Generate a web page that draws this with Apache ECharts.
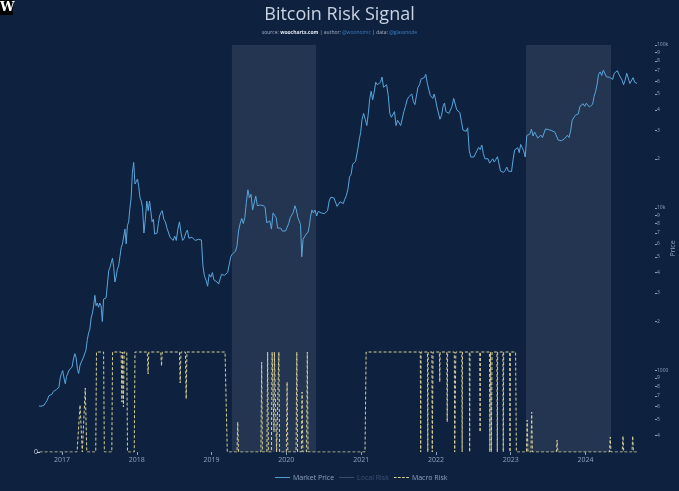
<!DOCTYPE html>
<html>
<head>
<meta charset="utf-8">
<script src="https://cdn.jsdelivr.net/npm/echarts@6/dist/echarts.min.js"></script>
<style>
html,body{margin:0;padding:0;background:#0e2240;}
#chart{width:679px;height:491px;}
</style>
</head>
<body>
<div id="chart"></div>
<script>
// ---- Data ----
// Market price: per month lists of roughly weekly closes (USD)
const priceStart = [2016, 8]; // year, month index (0-based) -> Sep 2016
const price2016 = [
  [608, 606, 604, 605],
  [613, 636, 657, 700],
  [705, 715, 745, 735],
  [765, 780, 790, 900, 960]
];
const price2017 = [
  [1000, 900, 830, 920, 920],
  [1010, 990, 1050, 1180],
  [1270, 1200, 1030, 960, 1070],
  [1130, 1180, 1210, 1330],
  [1550, 1700, 1800, 2100, 2250],
  [2500, 2900, 2500, 2600, 2450],
  [2600, 2500, 2000, 2750, 2700],
  [2800, 3400, 4100, 4300, 4600],
  [4900, 4300, 3500, 3800, 4200],
  [4400, 5000, 5700, 6000, 6100],
  [7400, 6000, 7800, 8200, 9900],
  [11500, 16500, 19000, 14000, 13800]
];
const price2018 = [
  [15000, 13500, 11500, 11000, 10000],
  [7000, 8500, 11000, 9600],
  [11000, 9500, 8200, 8500, 6900],
  [6800, 7000, 8000, 8900, 9300],
  [9600, 8500, 8200, 7500],
  [7600, 6600, 6700, 6300],
  [6700, 6300, 7400, 8200],
  [7000, 6300, 6500, 7000],
  [7300, 6500, 6500, 6600],
  [6600, 6300, 6450, 6400],
  [6400, 6350, 4400, 3800],
  [3600, 3300, 3900, 3750]
];
const price2019 = [
  [4000, 3600, 3550, 3500],
  [3400, 3650, 3900, 3800],
  [3850, 3950, 4000, 4100],
  [5000, 5200, 5300, 5400],
  [5800, 7200, 8000, 8600],
  [8000, 8700, 10800, 12900],
  [11500, 12100, 9700, 9500],
  [11800, 10300, 10100, 10400],
  [10500, 10300, 10000, 8100],
  [8300, 8300, 7400, 9300],
  [9200, 8700, 7500, 7500],
  [7500, 7200, 7200, 7200]
];
const price2020 = [
  [7300, 8000, 8700, 8900],
  [9400, 10300, 9700, 8700],
  [8900, 7900, 5000, 6400, 6500],
  [6800, 6900, 7100, 7700, 8800],
  [9700, 9300, 9700, 8900],
  [9500, 9700, 9300, 9200],
  [9200, 9200, 9600, 11000],
  [11600, 11800, 11500, 11400],
  [10200, 10400, 10900, 10700],
  [10600, 11300, 11900, 13100],
  [15500, 16000, 18500, 19000],
  [19300, 19000, 23500, 26500, 29000]
];
const price2021 = [
  [35000, 38000, 35000, 32000],
  [38000, 47000, 52000, 46000],
  [51000, 59000, 57000, 57000],
  [59000, 63500, 55000, 55000],
  [57000, 49000, 38000, 36000],
  [36000, 39000, 32000, 34500],
  [34000, 32000, 31500, 39000],
  [42000, 46000, 48000, 47000],
  [50000, 45000, 43000, 43500],
  [55000, 57000, 62000, 61000],
  [63000, 66000, 58000, 57000],
  [49000, 48000, 47000, 50000, 47000]
];
const price2022 = [
  [42000, 42000, 35000, 37000],
  [42000, 44000, 39000, 38500],
  [38000, 39000, 42000, 47000],
  [46000, 40000, 40000, 38500],
  [34000, 30000, 29500, 29500],
  [31000, 22500, 20500, 21000],
  [20500, 21000, 22500, 23500],
  [22800, 24300, 21500, 20000],
  [19800, 20000, 18800, 19400],
  [20000, 19100, 19500, 20600],
  [20800, 16800, 16500, 16500],
  [17000, 17800, 16800, 16600]
];
const price2023 = [
  [16700, 19900, 22700, 23100],
  [23400, 21800, 24500, 23500],
  [22400, 20500, 27800, 28000],
  [28400, 30400, 27600, 29200],
  [28800, 26800, 26800, 28000],
  [27000, 26300, 30500, 30500],
  [30200, 30300, 29800, 29200],
  [29100, 29400, 26100, 26000],
  [25800, 26500, 26500, 26900],
  [27900, 27000, 29700, 34500],
  [35100, 37000, 37500, 37800],
  [42000, 42300, 43600, 42000]
];
const price2024 = [
  [43900, 43000, 41600, 42600],
  [43200, 48300, 51700, 57000],
  [66000, 68400, 65000, 70000],
  [68600, 63800, 64500, 63300],
  [63000, 61500, 67000, 67800],
  [69500, 66000, 64500, 60900],
  [57000, 60800, 67000, 68200],
  [58000, 59000, 63000, 59000],
  [57500]
];
const priceYears = [price2016, price2017, price2018, price2019, price2020, price2021, price2022, price2023, price2024];

// Macro risk (0..1), decimal-year / value pairs
const macroYears = [
  2016.70, 2017.20, 2017.24, 2017.27, 2017.29, 2017.31, 2017.33,
  2017.45, 2017.46, 2017.555, 2017.565, 2017.665, 2017.675,
  2017.79, 2017.80, 2017.81, 2017.82, 2017.83, 2017.865, 2017.875, 2017.965, 2017.975,
  2018.14, 2018.15, 2018.16, 2018.32, 2018.33, 2018.34,
  2018.57, 2018.58, 2018.59, 2018.65, 2018.66, 2018.67,
  2019.18, 2019.21, 2019.34, 2019.35, 2019.36,
  2019.66, 2019.67, 2019.68, 2019.74, 2019.75, 2019.76,
  2019.80, 2019.81, 2019.83, 2019.835, 2019.84, 2019.86, 2019.87,
  2019.89, 2019.90, 2019.91, 2020.00, 2020.01, 2020.02,
  2020.13, 2020.14, 2020.15, 2020.20, 2020.21, 2020.22, 2020.27, 2020.28, 2020.29,
  2021.05, 2021.065,
  2021.79, 2021.795, 2021.80, 2021.885, 2021.89, 2021.895, 2021.945, 2021.95, 2021.96,
  2022.045, 2022.05, 2022.055, 2022.145, 2022.15, 2022.155,
  2022.245, 2022.25, 2022.26, 2022.265, 2022.345, 2022.35, 2022.355,
  2022.445, 2022.45, 2022.455, 2022.585, 2022.59, 2022.595,
  2022.715, 2022.72, 2022.73, 2022.74, 2022.75, 2022.815, 2022.82, 2022.825,
  2022.895, 2022.90, 2022.905, 2022.985, 2022.99, 2022.995, 2023.065, 2023.075,
  2023.21, 2023.22, 2023.23, 2023.27, 2023.28, 2023.29, 2023.61, 2023.62, 2023.63,
  2024.32, 2024.33, 2024.34, 2024.49, 2024.50, 2024.51, 2024.62, 2024.63, 2024.64, 2024.70
];
const macroValues = [
  0, 0, 0.47, 0, 0, 0.64, 0,
  0, 1, 1, 0, 0, 1,
  1, 0.5, 1, 0.45, 1, 1, 0, 0, 1,
  1, 0.78, 1, 1, 0.86, 1,
  1, 0.69, 1, 1, 0.53, 1,
  1, 0, 0, 0.3, 0,
  0, 0.9, 0, 0, 1, 0,
  0, 1, 1, 0.2, 1, 1, 0,
  0, 1, 0, 0, 0.7, 0,
  0, 1, 0, 0, 0.6, 0, 0, 1, 0,
  0, 1,
  1, 0, 1, 1, 0, 1, 1, 0, 1,
  1, 0.7, 1, 1, 0.3, 1,
  1, 0, 0, 1, 1, 0, 1,
  1, 0, 1, 1, 0.2, 1,
  1, 0, 1, 0, 1, 1, 0, 1,
  1, 0, 1, 1, 0, 1, 1, 0,
  0, 0.32, 0, 0, 0.4, 0, 0, 0.12, 0,
  0, 0.15, 0, 0, 0.16, 0, 0, 0.16, 0, 0
];
// Local risk (hidden in legend)
const localYears = [2016.70, 2017.30, 2017.31, 2017.32, 2021.10, 2021.11, 2021.12, 2024.70];
const localValues = [0, 0, 1, 0, 0, 1, 0, 0];

// Shaded periods
const shadeStarts = ['2019-04-10', '2023-03-16'];
const shadeEnds = ['2020-05-25', '2024-05-05'];

// Axis labels
const priceTicks = [400, 500, 600, 700, 800, 900, 1000, 2000, 3000, 4000, 5000, 6000, 7000, 8000, 9000,
  10000, 20000, 30000, 40000, 50000, 60000, 70000, 80000, 90000, 100000];

// ---- Build ----
function yearToTime(y) {
  const yr = Math.floor(y);
  const start = Date.UTC(yr, 0, 1), end = Date.UTC(yr + 1, 0, 1);
  return start + (y - yr) * (end - start);
}
const priceData = [];
priceYears.forEach((months, yi) => {
  const year = priceStart[0] + yi;
  const m0 = yi === 0 ? priceStart[1] : 0;
  months.forEach((vals, mi) => {
    const m = m0 + mi;
    const s = Date.UTC(year, m, 1), e = Date.UTC(year, m + 1, 1);
    vals.forEach((v, i) => priceData.push([s + (i + 0.5) / vals.length * (e - s), v]));
  });
});
const macroData = macroYears.map((y, i) => [yearToTime(y), macroValues[i]]);
const localData = localYears.map((y, i) => [yearToTime(y), localValues[i]]);

const labelColor = '#8ea3c0';
function priceFmt(v) {
  if (v >= 99999) return '100k';
  if (v >= 9999 && v < 10001) return '10k';
  if (v >= 999 && v < 1001) return '1000';
  const p = Math.pow(10, Math.floor(Math.log10(v) + 1e-9));
  return String(Math.round(v / p));
}
const dashIcon = 'path://M0,0h3v1h-3z M4.5,0h3v1h-3z M9,0h3v1h-3z M13.5,0h3v1h-3z';
const lineIcon = 'path://M0,0h16v1h-16z';

const chart = echarts.init(document.getElementById('chart'), null, {renderer: 'canvas'});
chart.setOption({
  backgroundColor: '#0e2240',
  animation: false,
  title: {
    text: 'Bitcoin Risk Signal',
    subtext: 'source: {b|woocharts.com} | author: {c|@woonomic} | data: {c|@glassnode}',
    left: 'center',
    top: 1,
    itemGap: 6,
    textStyle: {color: '#c9d3e2', fontSize: 18, fontWeight: 'normal', fontFamily: 'Open Sans'},
    subtextStyle: {
      color: '#a7b4c8', fontSize: 5, fontFamily: 'Open Sans',
      rich: {
        b: {color: '#dfe6f0', fontSize: 5, fontWeight: 'bold', fontFamily: 'Open Sans'},
        c: {color: '#3f7fc0', fontSize: 5, fontFamily: 'Open Sans'}
      }
    }
  },
  graphic: [
    {type: 'rect', left: 0, top: 0, shape: {width: 13, height: 15}, style: {fill: '#000'}},
    {type: 'text', left: 0, top: 1, style: {text: 'W', fill: '#fff', font: 'bold 13px "DejaVu Serif"'}}
  ],
  legend: {
    bottom: 5,
    left: 270,
    itemWidth: 15,
    itemHeight: 1.5,
    itemGap: 5,
    textStyle: {color: labelColor, fontSize: 7, fontFamily: 'Open Sans', padding: [0, 0, 0, -2]},
    inactiveColor: '#3c5274',
    selected: {'Local Risk': false},
    data: [
      {name: 'Market Price', icon: lineIcon},
      {name: 'Local Risk', icon: lineIcon},
      {name: 'Macro Risk', icon: dashIcon}
    ]
  },
  grid: {left: 40, right: 43, top: 45, bottom: 39, containLabel: false, outerBoundsMode: 'none'},
  xAxis: {
    type: 'time',
    min: yearToTime(2016.705),
    max: yearToTime(2024.674),
    splitNumber: 9,
    splitLine: {show: false},
    axisLine: {show: false},
    axisTick: {show: true, length: 3, lineStyle: {color: labelColor}},
    axisLabel: {
      color: labelColor, fontSize: 7, fontFamily: 'Open Sans', margin: 4,
      formatter: function (v) {
        const d = new Date(v);
        return (d.getUTCMonth() === 0 && d.getUTCDate() === 1) ? String(d.getUTCFullYear()) : '';
      }
    }
  },
  yAxis: [
    {
      type: 'log',
      position: 'right',
      offset: 19,
      min: Math.pow(10, 2.5),
      max: 100000,
      name: 'Price',
      nameLocation: 'middle',
      nameGap: 14,
      nameMoveOverlap: false,
      nameTextStyle: {color: labelColor, fontSize: 7, fontFamily: 'Open Sans'},
      splitLine: {show: false},
      axisLine: {show: false},
      axisTick: {show: true, length: 2, lineStyle: {color: labelColor}, customValues: priceTicks},
      axisLabel: {color: labelColor, fontSize: 5, fontFamily: 'Open Sans', margin: 2, customValues: priceTicks, formatter: priceFmt}
    },
    {
      type: 'value',
      position: 'left',
      min: 0,
      max: 4.07,
      splitLine: {show: false},
      axisLine: {show: false},
      axisTick: {show: true, length: 3, lineStyle: {color: '#c8d0dc'}, customValues: [0]},
      axisLabel: {color: '#c8d0dc', fontSize: 7, margin: 2, customValues: [0], formatter: v => String(v)}
    }
  ],
  series: [
    {
      name: 'Market Price',
      type: 'line',
      yAxisIndex: 0,
      data: priceData,
      symbol: 'none',
      lineStyle: {color: '#5aa6dc', width: 1},
      itemStyle: {color: '#5aa6dc'},
      markArea: {
        silent: true,
        itemStyle: {color: 'rgba(255,255,255,0.09)'},
        data: shadeStarts.map((s, i) => [{xAxis: s}, {xAxis: shadeEnds[i]}])
      },
      z: 3
    },
    {
      name: 'Local Risk',
      type: 'line',
      yAxisIndex: 1,
      data: localData,
      symbol: 'none',
      lineStyle: {color: '#8a93a0', width: 1},
      itemStyle: {color: '#8a93a0'}
    },
    {
      name: 'Macro Risk',
      type: 'line',
      yAxisIndex: 1,
      data: macroData,
      symbol: 'none',
      lineStyle: {color: '#d7cf96', width: 1, type: [3, 2]},
      itemStyle: {color: '#d7cf96'},
      z: 2
    }
  ]
});
</script>
</body>
</html>
